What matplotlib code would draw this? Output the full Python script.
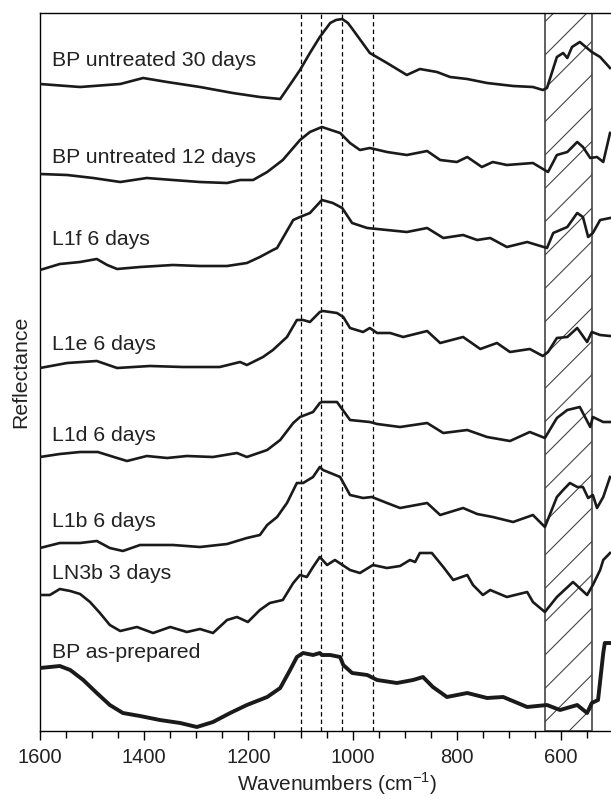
import matplotlib
matplotlib.use("Agg")
import matplotlib.pyplot as plt
from matplotlib.ticker import MultipleLocator

plt.rcParams["font.family"] = ["Liberation Sans", "DejaVu Sans"]
plt.rcParams["mathtext.fontset"] = "custom"
plt.rcParams["mathtext.rm"] = "Liberation Sans"
plt.rcParams["hatch.linewidth"] = 0.8

# -----------------------------
# Data (wavenumber, offset reflectance)
# -----------------------------
bp30_w = [1600, 1523, 1446, 1402, 1356, 1293, 1230, 1178, 1139, 1114, 1101, 1082, 1063,
          1043, 1032, 1020, 1009, 999, 967, 934, 896, 871, 838, 813, 780, 742, 692, 654,
          635, 627, 608, 596, 588, 579, 564, 541, 525, 506]
bp30_r = [647, 644, 647, 653, 649, 644, 638, 634, 632, 651, 661, 678, 694,
          708, 711, 712, 708, 701, 678, 668, 656, 662, 659, 654, 652, 648, 645, 644,
          641, 643, 674, 678, 673, 684, 689, 679, 674, 663]

bp12_w = [1600, 1548, 1498, 1446, 1395, 1345, 1293, 1241, 1216, 1191, 1164, 1134, 1101,
          1082, 1059, 1024, 1005, 986, 967, 934, 896, 857, 832, 800, 780, 752, 731, 704,
          654, 625, 608, 588, 569, 558, 544, 531, 519, 506]
bp12_r = [557, 556, 553, 549, 553, 551, 549, 548, 551, 551, 559, 571, 591,
          599, 604, 598, 588, 581, 583, 579, 576, 580, 571, 569, 574, 564, 569, 566,
          568, 559, 576, 579, 589, 584, 573, 574, 569, 598]

l1f_w = [1600, 1562, 1523, 1491, 1471, 1452, 1408, 1345, 1293, 1241, 1203, 1178, 1153,
         1145, 1114, 1101, 1082, 1059, 1038, 1020, 1001, 972, 934, 896, 857, 826, 788,
         761, 736, 704, 665, 627, 615, 588, 569, 558, 548, 539, 525, 506]
l1f_r = [461, 467, 469, 472, 466, 462, 464, 466, 465, 465, 468, 474, 481,
         483, 511, 514, 518, 531, 528, 523, 508, 503, 501, 499, 503, 493, 496,
         491, 493, 484, 489, 483, 498, 504, 518, 514, 494, 498, 511, 513]

l1e_w = [1600, 1548, 1491, 1452, 1389, 1326, 1255, 1216, 1203, 1172, 1153, 1126, 1107,
         1095, 1082, 1063, 1057, 1030, 1018, 1005, 980, 967, 953, 928, 903, 857, 832,
         788, 755, 723, 698, 660, 635, 625, 608, 588, 569, 550, 541, 525, 506]
l1e_r = [363, 368, 370, 363, 365, 364, 364, 369, 366, 374, 381, 394, 411,
         411, 409, 419, 420, 418, 414, 403, 399, 403, 398, 398, 394, 400, 388,
         394, 382, 388, 379, 382, 375, 379, 393, 394, 403, 389, 399, 396, 395]

l1d_w = [1600, 1562, 1523, 1489, 1452, 1433, 1395, 1356, 1318, 1268, 1222, 1203, 1164,
         1139, 1114, 1101, 1076, 1063, 1059, 1030, 1005, 967, 953, 909, 857, 826, 780,
         742, 698, 660, 631, 608, 588, 564, 544, 539, 519, 506]
l1d_r = [274, 277, 279, 279, 273, 270, 275, 273, 275, 274, 278, 274, 281,
         291, 308, 314, 319, 328, 329, 329, 311, 309, 307, 304, 308, 298, 301,
         294, 290, 299, 293, 313, 321, 324, 304, 314, 309, 309]

l1b_w = [1600, 1562, 1523, 1491, 1466, 1441, 1408, 1345, 1293, 1241, 1203, 1178, 1164,
         1145, 1126, 1107, 1095, 1076, 1063, 1057, 1038, 1024, 1005, 980, 963, 934, 909,
         857, 832, 788, 761, 731, 692, 654, 631, 608, 596, 583, 569, 558, 548, 539, 531,
         519, 506]
l1b_r = [183, 188, 188, 190, 183, 180, 186, 186, 184, 187, 193, 196, 206,
         214, 228, 248, 248, 254, 264, 261, 257, 254, 236, 233, 234, 228, 223,
         228, 216, 223, 217, 214, 209, 216, 204, 234, 241, 248, 244, 244, 233, 236, 223,
         234, 254]

ln3b_w = [1600, 1581, 1562, 1542, 1523, 1504, 1485, 1466, 1446, 1414, 1383, 1350, 1318,
          1293, 1268, 1241, 1222, 1201, 1178, 1159, 1134, 1114, 1101, 1088, 1076, 1063,
          1049, 1034, 1005, 986, 961, 934, 909, 890, 880, 871, 848, 826, 807, 780, 769,
          750, 736, 704, 665, 654, 631, 608, 577, 550, 539, 525, 519, 506]
ln3b_r = [136, 136, 142, 140, 137, 129, 118, 106, 100, 104, 98, 104, 99,
          102, 98, 111, 114, 109, 121, 128, 131, 148, 156, 154, 164, 174,
          166, 171, 161, 158, 166, 163, 165, 171, 169, 178, 178, 164, 151, 156, 146,
          136, 141, 134, 139, 129, 119, 134, 149, 136, 146, 161, 171, 178]

bpprep_w = [1600, 1562, 1542, 1517, 1491, 1466, 1441, 1408, 1370, 1331, 1299, 1268, 1235,
            1203, 1164, 1139, 1120, 1107, 1095, 1076, 1063, 1059, 1043, 1024, 1018, 1001,
            972, 953, 915, 884, 865, 846, 819, 780, 742, 711, 665, 627, 602, 569, 550,
            541, 529, 519, 516, 504]
bpprep_r = [63, 65, 61, 51, 38, 26, 18, 15, 11, 8, 4, 9, 18,
            26, 34, 43, 61, 74, 78, 76, 78, 76, 76, 74, 66, 58,
            56, 51, 48, 51, 54, 44, 34, 38, 33, 34, 24, 26, 21, 26, 18,
            28, 31, 78, 88, 88]

SPECTRA = [
    ("BP untreated 30 days", bp30_w, bp30_r, 665),
    ("BP untreated 12 days", bp12_w, bp12_r, 568),
    ("L1f 6 days", l1f_w, l1f_r, 486),
    ("L1e 6 days", l1e_w, l1e_r, 381),
    ("L1d 6 days", l1d_w, l1d_r, 290),
    ("L1b 6 days", l1b_w, l1b_r, 204),
    ("LN3b 3 days", ln3b_w, ln3b_r, 152),
    ("BP as-prepared", bpprep_w, bpprep_r, 73),
]

dashed_w = [1100, 1060, 1020, 960]
band_lo, band_hi = 540, 630

# -----------------------------
# Plot (axes runs past the right edge, like the cropped original)
# -----------------------------
fig = plt.figure(figsize=(6.11, 7.99), dpi=100)
ax = fig.add_axes([40 / 611, 68 / 799, 594 / 611, 718 / 799])

ax.axvspan(band_lo, band_hi, facecolor="none", edgecolor="#444444",
           hatch="/", linewidth=1.2, zorder=1)

for w in dashed_w:
    ax.axvline(w, color="black", linestyle=(0, (3.5, 2.5)), linewidth=0.9, zorder=1)

for label, w, r, ty in SPECTRA:
    lw = 2.8 if label == "BP as-prepared" else 1.9
    ax.plot(w, r, color="#1a1a1a", linewidth=lw, zorder=3)
    ax.text(1577, ty, label, fontsize=15.3, color="#222222", va="baseline", ha="left")

ax.set_xlim(1600, 460)
ax.set_ylim(0, 718)
ax.xaxis.set_major_locator(MultipleLocator(200))
ax.xaxis.set_minor_locator(MultipleLocator(50))
ax.tick_params(axis="x", which="major", length=6.5, width=1, labelsize=14.5,
               labelcolor="#222222", pad=6)
ax.tick_params(axis="x", which="minor", length=5, width=1)
ax.set_yticks([])
ax.spines["right"].set_visible(False)
for s in ["left", "top", "bottom"]:
    ax.spines[s].set_linewidth(1)

ax.set_xlabel("Wavenumbers (cm$^{-1}$)", fontsize=15, color="#222222", labelpad=2)
ax.set_ylabel("Reflectance", fontsize=15.3, color="#222222", labelpad=7)

plt.savefig("out.png", dpi=100)
plt.close()
